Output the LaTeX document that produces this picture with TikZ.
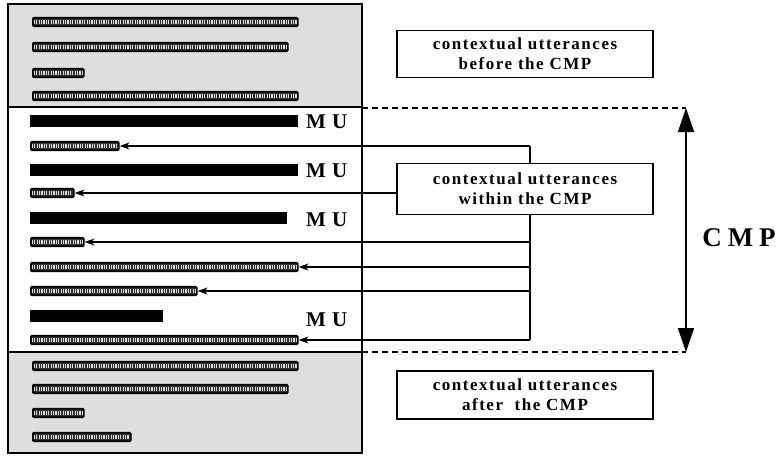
\documentclass[tikz,border=0pt]{standalone}
\usepackage{fontspec}
\setmainfont{Liberation Serif}
\newfontfamily\lblfont[LetterSpace=9]{Liberation Serif}
\newfontfamily\cmpfont[LetterSpace=10]{Liberation Serif}
\usetikzlibrary{arrows.meta}
\begin{document}
\begin{tikzpicture}[x=1pt,y=-1pt,
  ubar/.style={draw=black,line width=1.6pt,fill=black!80,rounded corners=1pt,minimum height=8.5pt,inner sep=0pt,anchor=west,
    path picture={\draw[white!85!black,line width=4pt,dash pattern=on 1.1pt off 1.3pt] ([xshift=1pt]path picture bounding box.west) -- ([xshift=-1pt]path picture bounding box.east);}},
  mubar/.style={fill=black,minimum height=12pt,inner sep=0pt,anchor=west},
  mulbl/.style={font=\fontsize{21}{21}\selectfont\bfseries,anchor=west,inner sep=0pt},
  infobox/.style={draw,fill=white,line width=1.2pt,minimum width=256pt,minimum height=48pt,inner sep=2pt,font=\lblfont\fontsize{17}{20}\selectfont\bfseries,align=center},
  conn/.style={line width=1.1pt,-{Stealth[length=10pt,width=7pt]}},
  dashline/.style={line width=1.1pt,dash pattern=on 6pt off 4pt},
]
\useasboundingbox (0,0) rectangle (779,456);
% sections
\fill[black!13] (8,4) rectangle (362,107);
\fill[black!13] (8,352) rectangle (362,453);
\draw[line width=1.6pt] (8,4) rectangle (362,453);
\draw[line width=1.6pt] (8,107) -- (362,107);
\draw[line width=1.6pt] (8,352) -- (362,352);
% top bars
\node[ubar,minimum width=265pt] (t1) at (32,22) {};
\node[ubar,minimum width=255pt] (t2) at (32,47) {};
\node[ubar,minimum width=51pt] (t3) at (32,73) {};
\node[ubar,minimum width=265pt] (t4) at (32,96) {};
% middle
\node[mubar,minimum width=268pt] (mu1) at (30,121) {};
\node[ubar,minimum width=88pt] (s1) at (30,146) {};
\node[mubar,minimum width=268pt] (mu2) at (30,170) {};
\node[ubar,minimum width=43pt] (s2) at (30,193) {};
\node[mubar,minimum width=257pt] (mu3) at (30,218) {};
\node[ubar,minimum width=53pt] (s3) at (30,242) {};
\node[ubar,minimum width=267pt] (s4) at (30,267) {};
\node[ubar,minimum width=166pt] (s5) at (30,291) {};
\node[mubar,minimum width=133pt] (mu4) at (30,316) {};
\node[ubar,minimum width=267pt] (s6) at (30,340) {};
\node[mulbl] (l1) at (306,122) {M\kern6pt U};
\node[mulbl] (l2) at (306,171) {M\kern6pt U};
\node[mulbl] (l3) at (306,220) {M\kern6pt U};
\node[mulbl] (l4) at (306,320) {M\kern6pt U};
% bottom bars
\node[ubar,minimum width=265pt] (b1) at (32,366) {};
\node[ubar,minimum width=255pt] (b2) at (32,389) {};
\node[ubar,minimum width=51pt] (b3) at (32,413) {};
\node[ubar,minimum width=98pt] (b4) at (32,437) {};
% connectors
\coordinate (r1) at (530,146);
\coordinate (r6) at (530,340);
\draw[line width=1.1pt] (r1) -- (r6);
\draw[conn] (r1) -- (s1.east);
\draw[conn] (s3.east -| r1) -- (s3.east);
\draw[conn] (s4.east -| r1) -- (s4.east);
\draw[conn] (s5.east -| r1) -- (s5.east);
\draw[conn] (r6) -- (s6.east);
\node[infobox,minimum height=51pt] (win) at (525,189) {contextual utterances\\within the CMP};
\draw[conn] (win.west |- s2.east) -- (s2.east);
\node[infobox,minimum height=47pt] (bef) at (525,54) {contextual utterances\\before the CMP};
\node[infobox] (aft) at (525,395) {contextual utterances\\after\ \ the CMP};
% CMP extent
\coordinate (d1) at (362,108);
\coordinate (d2) at (686,108);
\coordinate (d3) at (362,352);
\coordinate (d4) at (686,352);
\draw[dashline] (d1) -- (d2);
\draw[dashline] (d3) -- (d4);
\draw[line width=1.5pt,{Triangle[length=24pt,width=16pt]}-{Triangle[length=24pt,width=16pt]}] (d2) -- (d4);
\node[font=\cmpfont\fontsize{27}{27}\selectfont\bfseries,inner sep=0pt] (cmp) at (739,238) {C\kern6pt M\kern6pt P};
\end{tikzpicture}
\end{document}
